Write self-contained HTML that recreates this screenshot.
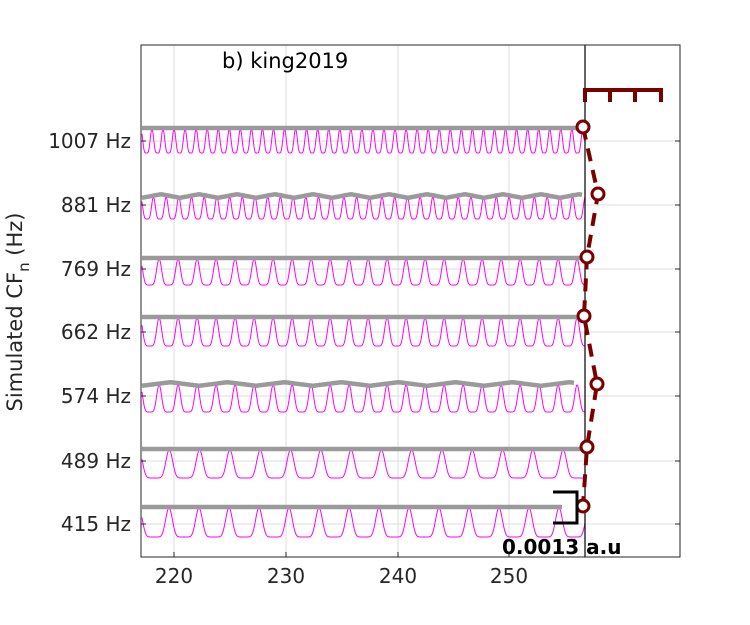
<!DOCTYPE html>
<html><head><meta charset="utf-8"><style>
html,body{margin:0;padding:0;background:#fff;width:750px;height:625px;overflow:hidden}
svg text{font-family:"DejaVu Sans","Liberation Sans",sans-serif;fill:#262626}
</style></head><body>
<svg id="s" width="750" height="625" xmlns="http://www.w3.org/2000/svg">
<rect x="0" y="0" width="750" height="625" fill="#fff"/>
<g stroke="#dedede" stroke-width="1">
<line x1="174" y1="45" x2="174" y2="557"/><line x1="286" y1="45" x2="286" y2="557"/>
<line x1="398" y1="45" x2="398" y2="557"/><line x1="509" y1="45" x2="509" y2="557"/>
<line x1="141" y1="141" x2="680" y2="141"/><line x1="141" y1="205" x2="680" y2="205"/>
<line x1="141" y1="269" x2="680" y2="269"/><line x1="141" y1="332" x2="680" y2="332"/>
<line x1="141" y1="396" x2="680" y2="396"/><line x1="141" y1="461" x2="680" y2="461"/>
<line x1="141" y1="524" x2="680" y2="524"/>
</g>
<g id="waves"></g>
<line x1="585" y1="45" x2="585" y2="557" stroke="#000" stroke-width="1.2"/>
<rect x="141" y="45" width="539" height="512" fill="none" stroke="#262626" stroke-width="1"/>
<g stroke="#262626" stroke-width="1">
<line x1="174" y1="557" x2="174" y2="552"/><line x1="286" y1="557" x2="286" y2="552"/>
<line x1="398" y1="557" x2="398" y2="552"/><line x1="509" y1="557" x2="509" y2="552"/>
<line x1="141" y1="141" x2="146" y2="141"/><line x1="141" y1="205" x2="146" y2="205"/>
<line x1="141" y1="269" x2="146" y2="269"/><line x1="141" y1="332" x2="146" y2="332"/>
<line x1="141" y1="396" x2="146" y2="396"/><line x1="141" y1="461" x2="146" y2="461"/>
<line x1="141" y1="524" x2="146" y2="524"/>
<line x1="680" y1="141" x2="675" y2="141"/><line x1="680" y1="205" x2="675" y2="205"/>
<line x1="680" y1="269" x2="675" y2="269"/><line x1="680" y1="332" x2="675" y2="332"/>
<line x1="680" y1="396" x2="675" y2="396"/><line x1="680" y1="461" x2="675" y2="461"/>
<line x1="680" y1="524" x2="675" y2="524"/>
</g>
<polyline points="583,127 598,194 587,257 584,316 597,384 587,447 583,506" fill="none" stroke="#7a0000" stroke-width="4" stroke-dasharray="13,9"/>
<g fill="#fff" stroke="#7a0000" stroke-width="3">
<circle cx="583" cy="127" r="6"/><circle cx="598" cy="194" r="6"/><circle cx="587" cy="257" r="6"/>
<circle cx="584" cy="316" r="6"/><circle cx="597" cy="384" r="6"/><circle cx="587" cy="447" r="6"/>
<circle cx="583" cy="506" r="6"/>
</g>
<path d="M585,102 V90 H661 V102 M610,90 V102 M635,90 V102" fill="none" stroke="#7a0000" stroke-width="4"/>
<path d="M553,492 H577 V523 H553" fill="none" stroke="#000" stroke-width="3"/>
<text x="502" y="554" font-size="20" font-weight="bold" style="fill:#000">0.0013 a.u</text>
<text x="222" y="68" font-size="21" style="fill:#000">b) king2019</text>
<g font-size="20" text-anchor="end">
<text x="131" y="148">1007 Hz</text><text x="131" y="212">881 Hz</text>
<text x="131" y="276">769 Hz</text><text x="131" y="339">662 Hz</text>
<text x="131" y="403">574 Hz</text><text x="131" y="468">489 Hz</text>
<text x="131" y="531">415 Hz</text>
</g>
<g font-size="20" text-anchor="middle">
<text x="174" y="583">220</text><text x="286" y="583">230</text>
<text x="398" y="583">240</text><text x="509" y="583">250</text>
</g>
<text transform="translate(22,312) rotate(-90)" font-size="21" text-anchor="middle">Simulated CF<tspan font-size="15" dy="7">n</tspan><tspan dy="-7"> (Hz)</tspan></text>
</svg>
<script>
(function(){
// f, gray y, gray end, amplitude, period, k, wave period, wave amp
var rows=[[1007,128,583,24,11.05,2.2,0,0],[881,196,583,22,12.7,2.4,38,1.8],[769,258,583,26,19,3,0,0],[662,317,583,28,19,3,0,0],[574,384,575,27,19,3,57,1.8],[489,449,583,28,30.3,4,0,0],[415,507,563,29,30,4,0,0]];
var g=document.getElementById('waves'),out='';
rows.forEach(function(r,i){
 var per=r[4],top=r[1]+1,A=r[3],k=r[5];
 var d='';
 for(var x=142;x<=585;x+=0.5){
  var p=((x-142)/per+0.1)%1;
  var v0=(1-Math.cos(2*Math.PI*p))/2;
  var v=1-Math.pow(1-v0,k);
  var y=top+A*v;
  d+=(x==142?'M':'L')+x.toFixed(1)+','+y.toFixed(1);
 }
 out+='<path d="'+d+'" fill="none" stroke="#ff00ff" stroke-width="1"/>';
 var gd='';
 for(var x=142;x<=r[2];x+=2){
  var y=r[1];
  if(r[6]){var q=((x-142)/r[6])%1;y+=r[7]*(Math.abs(q-0.5)*4-1);}
  gd+=(x==142?'M':'L')+x+','+y.toFixed(1);
 }
 out+='<path d="'+gd+'" fill="none" stroke="#9a9a9a" stroke-width="4.5"/>';
});
g.innerHTML=out;
})();
</script>
</body></html>
